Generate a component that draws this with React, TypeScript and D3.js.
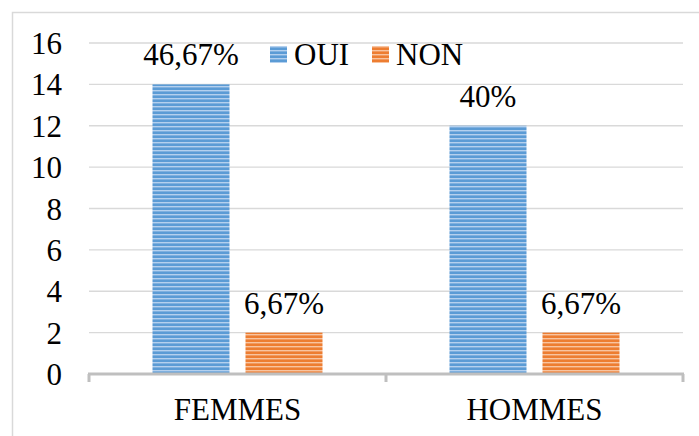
import React from "react";
import * as d3 from "d3";

const categories = ["FEMMES", "HOMMES"];
const seriesNames = ["OUI", "NON"];
const ouiValues = [14, 12];
const nonValues = [2, 2];
const ouiLabels = ["46,67%", "40%"];
const nonLabels = ["6,67%", "6,67%"];
const yTicks = [0, 2, 4, 6, 8, 10, 12, 14, 16];

const W = 699, H = 436;
const colors = ["#5b9bd5", "#ed7d31"];
const light = ["#b4d0ee", "#f8c4a0"];
const font = '"Liberation Serif", "Times New Roman", "DejaVu Serif", serif';

export default function App() {
  const x0 = d3.scaleBand().domain(categories).range([89, 683]).paddingInner(0).paddingOuter(0);
  const x1 = d3.scaleBand().domain(seriesNames).range([63.5, 233.5]).paddingInner(16 / 93).paddingOuter(0);
  const y = d3.scaleLinear().domain([0, 16]).range([374, 43]);
  const series = [ouiValues, nonValues];
  const labels = [ouiLabels, nonLabels];
  const ts = { fontFamily: font };
  const fs = 31;

  return (
    <svg width={W} height={H} style={{ position: "absolute", left: 0, top: 0 }}>
      <defs>
        {colors.map((c, i) => (
          <pattern key={i} id={`p${i}`} width="8" height="4" patternUnits="userSpaceOnUse">
            <rect width="8" height="4" fill={c} />
            <rect y="2" width="8" height="1.4" fill={light[i]} />
          </pattern>
        ))}
      </defs>
      <rect x={0} y={0} width={W} height={H} fill="#fff" />
      <rect x={12.5} y={12.5} width={W} height={H} fill="none" stroke="#d9d9d9" strokeWidth={1.5} />
      {yTicks.map((t) => (
        <g key={t}>
          {t > 0 && (
            <line x1={89} x2={683} y1={y(t)} y2={y(t)} stroke="#d9d9d9" strokeWidth={1.3} />
          )}
          <text x={62} y={y(t) + 11} textAnchor="end" style={ts} fontSize={fs} fill="#000">
            {t}
          </text>
        </g>
      ))}
      {categories.map((c, ci) => (
        <g key={c}>
          {series.map((vals, si) => {
            const bx = (x0(c) as number) + (x1(seriesNames[si]) as number);
            const bw = x1.bandwidth();
            return (
              <g key={si}>
                <rect x={bx} y={y(vals[ci])} width={bw} height={y(0) - y(vals[ci])} fill={`url(#p${si})`} />
                <text x={bx + bw / 2} y={y(vals[ci]) - 19} textAnchor="middle" style={ts} fontSize={fs} fill="#000">
                  {labels[si][ci]}
                </text>
              </g>
            );
          })}
          <text x={(x0(c) as number) + x0.bandwidth() / 2} y={420} textAnchor="middle" style={ts} fontSize={fs} fill="#000">
            {c}
          </text>
        </g>
      ))}
      <line x1={88} x2={684} y1={374} y2={374} stroke="#bfbfbf" strokeWidth={3} />
      {[...categories.map((c) => x0(c) as number), 683].map((tx, i) => (
        <line key={i} x1={tx} x2={tx} y1={374} y2={382} stroke="#bfbfbf" strokeWidth={3} />
      ))}
      {seriesNames.map((s, i) => {
        const lx = i === 0 ? 270 : 372;
        return (
          <g key={s}>
            <rect x={lx} y={46} width={17} height={17} fill={`url(#p${i})`} />
            <text x={lx + 24} y={65} style={ts} fontSize={fs} fill="#000">
              {s}
            </text>
          </g>
        );
      })}
    </svg>
  );
}
